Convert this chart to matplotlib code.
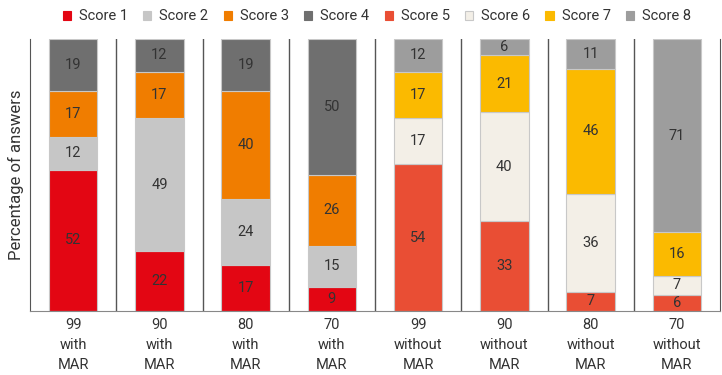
import matplotlib.pyplot as plt
import numpy as np

plt.rcParams['font.family'] = ['Roboto', 'DejaVu Sans']

groups = ['99\nwith\nMAR', '90\nwith\nMAR', '80\nwith\nMAR', '70\nwith\nMAR',
          '99\nwithout\nMAR', '90\nwithout\nMAR', '80\nwithout\nMAR', '70\nwithout\nMAR']
score_names = ['Score 1', 'Score 2', 'Score 3', 'Score 4',
               'Score 5', 'Score 6', 'Score 7', 'Score 8']
colors = ['#e30613', '#c6c6c6', '#f07d00', '#6f6f6f',
          '#e94e34', '#f3efe7', '#fbba00', '#9d9d9d']

# values per group, bottom to top (first 4 groups use scores 1-4, last 4 use 5-8)
with_mar = [
    [52, 12, 17, 19],
    [22, 49, 17, 12],
    [17, 24, 40, 19],
    [9, 15, 26, 50],
]
without_mar = [
    [54, 17, 17, 12],
    [33, 40, 21, 6],
    [7, 36, 46, 11],
    [6, 7, 16, 71],
]

fig = plt.figure(figsize=(7.22, 3.75), dpi=100)
ax = fig.add_axes([30 / 722, 1 - 311 / 375, 690 / 722, 272 / 375])

x = np.arange(len(groups))
bar_w = 0.56
txt = '#333333'

for gi, vals in enumerate(with_mar + without_mar):
    offset = 0 if gi < 4 else 4
    bottom = 0
    for si, v in enumerate(vals):
        c = colors[si + offset]
        ax.bar(x[gi], v, bar_w, bottom=bottom, color=c,
               edgecolor='#c8c8c8', linewidth=0.8)
        ax.text(x[gi], bottom + v / 2, str(v), ha='center', va='center',
                fontsize=10.5, color=txt)
        bottom += v

for b in np.arange(0.5, len(groups) - 0.5, 1.0):
    ax.axvline(b, color='#555555', lw=1)

ax.set_xlim(-0.5, len(groups) - 0.5)
ax.set_ylim(0, 100)
ax.set_xticks(x)
ax.set_xticklabels(groups, fontsize=10.5, color=txt, linespacing=1.55)
ax.tick_params(axis='x', length=0, pad=5)
ax.set_yticks([])
ax.set_ylabel('Percentage of answers', fontsize=12, color=txt, labelpad=4)

ax.spines['top'].set_visible(False)
ax.spines['left'].set_color('#555555')
ax.spines['right'].set_color('#555555')
ax.spines['bottom'].set_color('#888888')

handles = [plt.Rectangle((0, 0), 1, 1, facecolor=c,
                         edgecolor='#c8c8c8' if c == '#f3efe7' else c, lw=0.8)
           for c in colors]
fig.legend(handles, score_names, loc='upper center', bbox_to_anchor=(0.522, 1.01),
           ncol=8, frameon=False, fontsize=10.5, handlelength=0.55, handleheight=0.55,
           handletextpad=0.55, columnspacing=1.05, labelcolor=txt)

fig.savefig('out.png', dpi=100)
